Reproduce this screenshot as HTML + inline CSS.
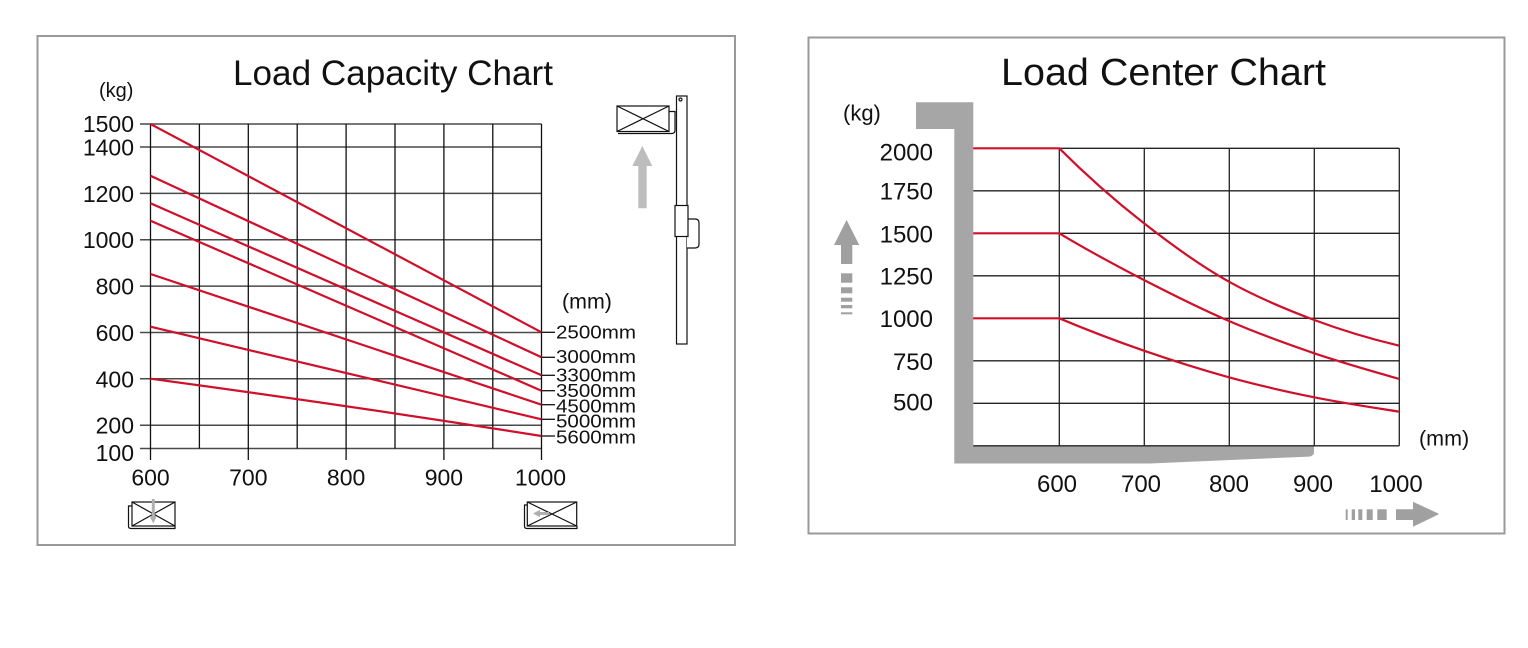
<!DOCTYPE html>
<html>
<head>
<meta charset="utf-8">
<style>
html,body{margin:0;padding:0;background:#fff;}
svg{display:block;}
text{font-family:"Liberation Sans",Arial,sans-serif;fill:#111;}
</style>
</head>
<body>
<svg width="1528" height="648" viewBox="0 0 1528 648" xmlns="http://www.w3.org/2000/svg">
<rect x="0" y="0" width="1528" height="648" fill="#fff"/>

<!-- ================= LEFT CHART ================= -->
<rect x="37.5" y="36" width="697.5" height="509" fill="none" stroke="#9a9a9a" stroke-width="2"/>
<text x="233" y="85" font-size="35.5" textLength="320" lengthAdjust="spacingAndGlyphs">Load Capacity Chart</text>
<text x="99" y="97" font-size="20">(kg)</text>

<!-- horizontal grid -->
<g stroke="#4a4a4a" stroke-width="1.5">
<line x1="140" y1="124" x2="541.5" y2="124"/>
<line x1="140" y1="147" x2="541.5" y2="147"/>
<line x1="140" y1="193.4" x2="541.5" y2="193.4"/>
<line x1="140" y1="239.8" x2="541.5" y2="239.8"/>
<line x1="140" y1="286.1" x2="541.5" y2="286.1"/>
<line x1="140" y1="332.5" x2="541.5" y2="332.5"/>
<line x1="140" y1="378.8" x2="541.5" y2="378.8"/>
<line x1="140" y1="425.2" x2="541.5" y2="425.2"/>
<line x1="140" y1="448.5" x2="541.5" y2="448.5"/>
</g>
<!-- vertical grid -->
<g stroke="#111" stroke-width="1.3">
<line x1="150.5" y1="124" x2="150.5" y2="460"/>
<line x1="199.4" y1="124" x2="199.4" y2="448.5"/>
<line x1="248.3" y1="124" x2="248.3" y2="460"/>
<line x1="297.2" y1="124" x2="297.2" y2="448.5"/>
<line x1="346.1" y1="124" x2="346.1" y2="460"/>
<line x1="395" y1="124" x2="395" y2="448.5"/>
<line x1="443.9" y1="124" x2="443.9" y2="460"/>
<line x1="492.8" y1="124" x2="492.8" y2="448.5"/>
<line x1="541.5" y1="124" x2="541.5" y2="460"/>
</g>

<!-- y labels -->
<g font-size="23" text-anchor="end">
<text x="134" y="132">1500</text>
<text x="134" y="155.5">1400</text>
<text x="134" y="201.8">1200</text>
<text x="134" y="248.2">1000</text>
<text x="134" y="294.6">800</text>
<text x="134" y="341">600</text>
<text x="134" y="387.3">400</text>
<text x="134" y="433.5">200</text>
<text x="134" y="461">100</text>
</g>
<!-- x labels -->
<g font-size="23" text-anchor="middle">
<text x="150.5" y="485.5">600</text>
<text x="248.3" y="485.5">700</text>
<text x="346.1" y="485.5">800</text>
<text x="443.9" y="485.5">900</text>
<text x="540.5" y="485.5">1000</text>
</g>

<!-- red lines -->
<g stroke="#d0102a" stroke-width="2.2" fill="none">
<line x1="150.5" y1="124" x2="541.5" y2="332.3"/>
<line x1="150.5" y1="175.7" x2="541.5" y2="357.3"/>
<line x1="150.5" y1="203.3" x2="541.5" y2="375.3"/>
<line x1="150.5" y1="220.7" x2="541.5" y2="390.7"/>
<line x1="150.5" y1="274" x2="541.5" y2="404.7"/>
<line x1="150.5" y1="326.7" x2="541.5" y2="419.3"/>
<path d="M150.5,378.7 Q346,405 541.5,436"/>
</g>
<!-- label ticks -->
<g stroke="#111" stroke-width="1.3">
<line x1="541.5" y1="332.3" x2="555" y2="332.3"/>
<line x1="541.5" y1="357.3" x2="555" y2="357.3"/>
<line x1="541.5" y1="375.3" x2="555" y2="375.3"/>
<line x1="541.5" y1="390.7" x2="555" y2="390.7"/>
<line x1="541.5" y1="404.7" x2="555" y2="404.7"/>
<line x1="541.5" y1="419.3" x2="555" y2="419.3"/>
<line x1="541.5" y1="436" x2="555" y2="436"/>
</g>
<text x="562" y="308.6" font-size="21.4">(mm)</text>
<g font-size="18.6">
<text x="556" y="338.4" textLength="80" lengthAdjust="spacingAndGlyphs">2500mm</text>
<text x="556" y="363" textLength="80" lengthAdjust="spacingAndGlyphs">3000mm</text>
<text x="556" y="381.7" textLength="80" lengthAdjust="spacingAndGlyphs">3300mm</text>
<text x="556" y="397" textLength="80" lengthAdjust="spacingAndGlyphs">3500mm</text>
<text x="556" y="412.7" textLength="80" lengthAdjust="spacingAndGlyphs">4500mm</text>
<text x="556" y="427.4" textLength="80" lengthAdjust="spacingAndGlyphs">5000mm</text>
<text x="556" y="443.7" textLength="80" lengthAdjust="spacingAndGlyphs">5600mm</text>
</g>

<!-- mast icon -->
<g stroke="#111" stroke-width="1.2" fill="#fff">
<rect x="676.5" y="96" width="10.5" height="248"/>
<circle cx="680.5" cy="99.5" r="1.5" fill="none"/>
<path d="M687,219 H695 Q699,219 699,223 V244 Q699,248 695,248 H687"/>
<rect x="675" y="205.5" width="13" height="31"/>
<path d="M669,111.5 H675 V130 Q675,133.5 671.5,133.5 H618" fill="none"/>
<rect x="617" y="106" width="52" height="25.5"/>
<line x1="617" y1="106" x2="669" y2="131.5"/>
<line x1="617" y1="131.5" x2="669" y2="106"/>
</g>
<polygon points="642.3,146 652.3,166 646.7,166 646.7,208.3 638.3,208.3 638.3,166 632.3,166" fill="#bdbdbd"/>

<!-- bottom left icon -->
<g stroke="#111" stroke-width="1.2" fill="none">
<path d="M132,506 H128.5 V526 Q128.5,528.5 131,528.5 H175 V526"/>
<rect x="132" y="502" width="43" height="24" fill="#fff"/>
<line x1="132" y1="502" x2="175" y2="526"/>
<line x1="132" y1="526" x2="175" y2="502"/>
</g>
<line x1="153.3" y1="499" x2="153.3" y2="517" stroke="#b0b0b0" stroke-width="3"/>
<polygon points="149.5,516 157,516 153.3,523.5" fill="#b0b0b0"/>

<!-- bottom right icon -->
<g stroke="#111" stroke-width="1.2" fill="none">
<path d="M527,505 H524.5 V526 Q524.5,528.5 527,528.5 H577 V526"/>
<rect x="527.3" y="502" width="49.4" height="24" fill="#fff"/>
<line x1="527.3" y1="502" x2="576.7" y2="526"/>
<line x1="527.3" y1="526" x2="576.7" y2="502"/>
</g>
<line x1="539" y1="513.5" x2="549" y2="513.5" stroke="#b0b0b0" stroke-width="3"/>
<polygon points="540,509.8 540,517.2 533,513.5" fill="#b0b0b0"/>

<!-- ================= RIGHT CHART ================= -->
<rect x="808.5" y="37.5" width="696" height="496" fill="none" stroke="#9a9a9a" stroke-width="2"/>
<text x="1001" y="85" font-size="38" textLength="325" lengthAdjust="spacingAndGlyphs">Load Center Chart</text>
<text x="843" y="120.7" font-size="22">(kg)</text>

<!-- fork -->
<path d="M916,102.3 H973.3 V445.7 H1314 V452 Q1314,456.2 1309,456.6 L1150,463.5 H954.3 V129 H916 Z" fill="#a6a6a6"/>

<!-- grid -->
<g stroke="#222" stroke-width="1.3">
<line x1="973.3" y1="148.3" x2="1399.3" y2="148.3"/>
<line x1="973.3" y1="190.8" x2="1399.3" y2="190.8"/>
<line x1="973.3" y1="233.3" x2="1399.3" y2="233.3"/>
<line x1="973.3" y1="275.8" x2="1399.3" y2="275.8"/>
<line x1="973.3" y1="318.3" x2="1399.3" y2="318.3"/>
<line x1="973.3" y1="360.8" x2="1399.3" y2="360.8"/>
<line x1="973.3" y1="403.3" x2="1399.3" y2="403.3"/>
<line x1="973.3" y1="445.8" x2="1399.3" y2="445.8"/>
<line x1="1059.3" y1="148.3" x2="1059.3" y2="445.8"/>
<line x1="1144.3" y1="148.3" x2="1144.3" y2="445.8"/>
<line x1="1229.3" y1="148.3" x2="1229.3" y2="445.8"/>
<line x1="1314.3" y1="148.3" x2="1314.3" y2="445.8"/>
<line x1="1399.3" y1="148.3" x2="1399.3" y2="445.8"/>
</g>

<!-- curves -->
<g stroke="#d0102a" stroke-width="2.2" fill="none">
<path d="M973.3,148.3 H1059.3 C1087.6,176.6 1115.7,201.2 1144,223.3 C1172.3,245.4 1200.7,265.9 1229,281.7 C1257.3,297.5 1286,309.4 1314.3,320 C1342.6,330.6 1371,339 1399.3,345.7"/>
<path d="M973.3,233.3 H1059.3 C1087.6,250.3 1115.7,265.4 1144,280 C1172.3,294.6 1200.7,308.8 1229,321 C1257.3,333.2 1286,343.7 1314.3,353.3 C1342.6,362.9 1371,370.8 1399.3,379"/>
<path d="M973.3,318.3 H1059.3 C1087.6,330.2 1115.7,340.9 1144,350.7 C1172.3,360.5 1200.7,369.5 1229,377.3 C1257.3,385.1 1286,391.6 1314.3,397.3 C1342.6,403 1371,407.2 1399.3,411.7"/>
</g>

<!-- y labels -->
<g font-size="24" text-anchor="end">
<text x="933" y="160.3">2000</text>
<text x="933" y="199.6">1750</text>
<text x="933" y="242.3">1500</text>
<text x="933" y="284.6">1250</text>
<text x="933" y="327.1">1000</text>
<text x="933" y="370.2">750</text>
<text x="933" y="410.3">500</text>
</g>
<!-- x labels -->
<g font-size="24" text-anchor="middle">
<text x="1057" y="492">600</text>
<text x="1141" y="492">700</text>
<text x="1229" y="492">800</text>
<text x="1313" y="492">900</text>
<text x="1396" y="492">1000</text>
</g>
<text x="1419" y="445.6" font-size="21.5">(mm)</text>

<!-- up arrow -->
<g fill="#a0a0a0">
<polygon points="846.6,220 859.3,245 852.3,245 852.3,264 841,264 841,245 834,245"/>
<rect x="841" y="273.3" width="11.3" height="9.4"/>
<rect x="841" y="287.3" width="11.3" height="6"/>
<rect x="841" y="297.7" width="11.3" height="4"/>
<rect x="841" y="305" width="11.3" height="3.3"/>
<rect x="841" y="312.3" width="11.3" height="2"/>
</g>
<!-- right arrow -->
<g fill="#a0a0a0">
<polygon points="1396,509.3 1413,509.3 1413,501.7 1439.3,514 1413,526.7 1413,520 1396,520"/>
<rect x="1377.3" y="509.3" width="9.4" height="10.7"/>
<rect x="1366.7" y="509.3" width="6" height="10.7"/>
<rect x="1358.3" y="509.3" width="4" height="10.7"/>
<rect x="1351.7" y="509.3" width="3.3" height="10.7"/>
<rect x="1345.7" y="509.3" width="2" height="10.7"/>
</g>
</svg>
</body>
</html>
